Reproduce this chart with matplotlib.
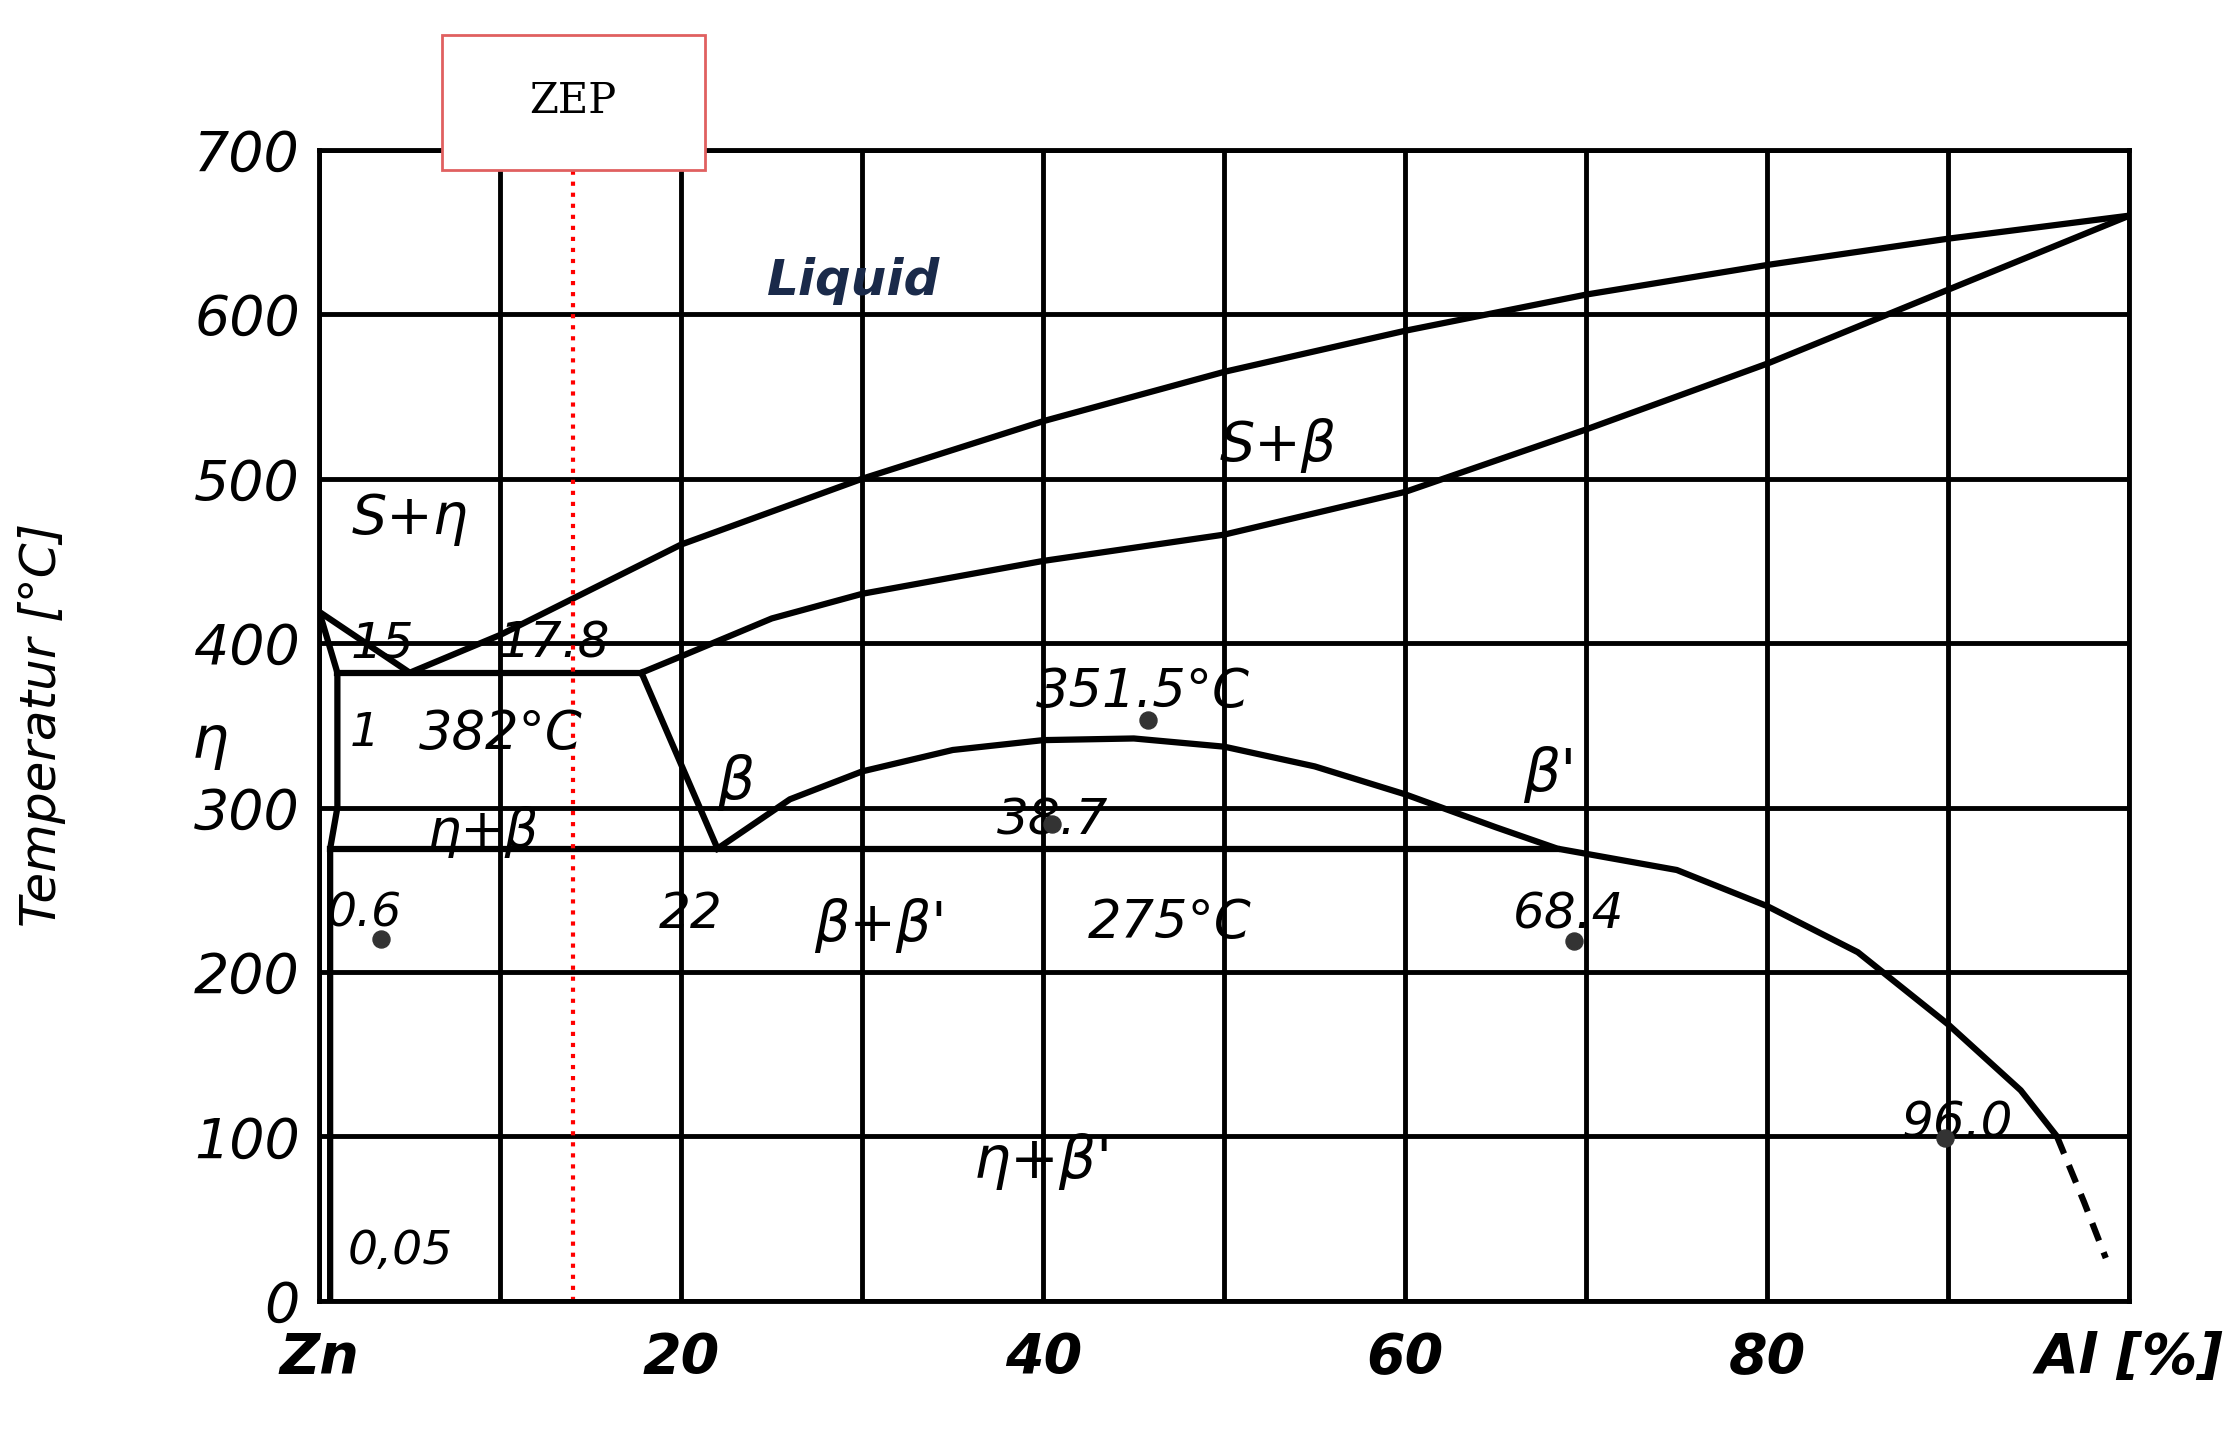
import matplotlib.pyplot as plt
import matplotlib.patches as mpatches

# phase boundaries (Al %, temperature °C)
liquidus_x = [0, 5, 10, 20, 30, 40, 50, 60, 70, 80, 90, 100]
liquidus_t = [419, 382, 405, 460, 500, 535, 565, 590, 612, 630, 646, 660]
solidus_x = [17.8, 20, 25, 30, 40, 50, 60, 70, 80, 90, 100]
solidus_t = [382, 392, 415, 430, 450, 466, 492, 530, 570, 615, 660]
beta_x = [17.8, 22]
beta_t = [382, 275]
dome_x = [22, 26, 30, 35, 40, 45, 50, 55, 60, 65, 68.4, 75, 80, 85, 90, 94, 96]
dome_t = [275, 305, 322, 335, 341, 342, 337, 325, 308, 288, 275, 262, 240, 212, 168, 128, 100]
dash_x = [96, 97.5, 98.7]
dash_t = [100, 60, 26]
eta_x = [0, 1, 1, 0.6, 0.6]
eta_t = [419, 382, 300, 275, 0]
eutectic_x = [1, 17.8]
eutectic_t = [382, 382]
eutectoid_x = [0.6, 68.4]
eutectoid_t = [275, 275]
dots_x = [3.4, 40.5, 45.8, 69.3, 89.8]
dots_t = [220, 290, 353, 219, 99]
zep_x = 14

fig = plt.figure(figsize=(22.25, 14.55), dpi=100)
ax = fig.add_axes([0.1435, 0.106, 0.8135, 0.791])
ax.set_xlim(0, 100)
ax.set_ylim(0, 700)
ax.set_xticks(range(0, 101, 10))
ax.set_yticks(range(0, 701, 100))
ax.grid(True, color="black", lw=3.5)
for s in ax.spines.values():
    s.set_linewidth(3.5)
ax.tick_params(length=0, labelsize=40)
ax.tick_params(axis="x", pad=22)
ax.tick_params(axis="y", pad=14)
ax.set_xticklabels(["Zn", "", "20", "", "40", "", "60", "", "80", "", "Al [%]"],
                   fontstyle="italic", fontweight="bold")
ax.set_yticklabels([str(v) for v in range(0, 701, 100)], fontstyle="italic")
ax.set_ylabel("Temperatur [°C]", fontsize=36, fontstyle="italic")
ax.yaxis.set_label_coords(-0.14, 0.5)

lw = 4.5
for xs, ts in [(liquidus_x, liquidus_t), (solidus_x, solidus_t), (beta_x, beta_t),
               (dome_x, dome_t), (eta_x, eta_t), (eutectic_x, eutectic_t),
               (eutectoid_x, eutectoid_t)]:
    ax.plot(xs, ts, color="black", lw=lw)
ax.plot(dash_x, dash_t, color="black", lw=lw, ls=(0, (3, 2)))
ax.scatter(dots_x, dots_t, s=150, color="#333333", zorder=5)

ax.axvline(zep_x, color="red", ls=":", lw=3)
box = mpatches.FancyBboxPatch((6.8, 688), 14.5, 82, boxstyle="square,pad=0",
                              fc="white", ec="#e06060", lw=2, clip_on=False,
                              transform=ax.transData, zorder=6)
ax.add_patch(box)
ax.text(14, 730, "ZEP", fontsize=30, family="DejaVu Serif", ha="center", va="center", zorder=7)

ax.text(29.5, 620, "Liquid", fontsize=36, fontstyle="italic", fontweight="bold",
        color="#1a2a4a", ha="center", va="center")
labels = [
    (53, 520, "S+β", 40), (5, 475, "S+η", 40), (3.5, 400, "15", 36), (13, 400, "17.8", 36),
    (-6, 340, "η", 42), (2.5, 345, "1", 34), (10, 345, "382°C", 38), (9, 285, "η+β", 38),
    (23, 315, "β", 42), (45.5, 370, "351.5°C", 38), (68, 320, "β'", 42),
    (40.5, 292, "38.7", 36), (2.5, 235, "0.6", 34), (20.5, 235, "22", 36),
    (31, 228, "β+β'", 40), (47, 230, "275°C", 38), (69, 235, "68.4", 36),
    (90.5, 108, "96.0", 36), (40, 85, "η+β'", 42), (4.5, 30, "0,05", 34),
]
for x, t, s, fs in labels:
    ax.text(x, t, s, fontsize=fs, fontstyle="italic", ha="center", va="center",
            clip_on=False)

fig.savefig("out.png", dpi=100)
